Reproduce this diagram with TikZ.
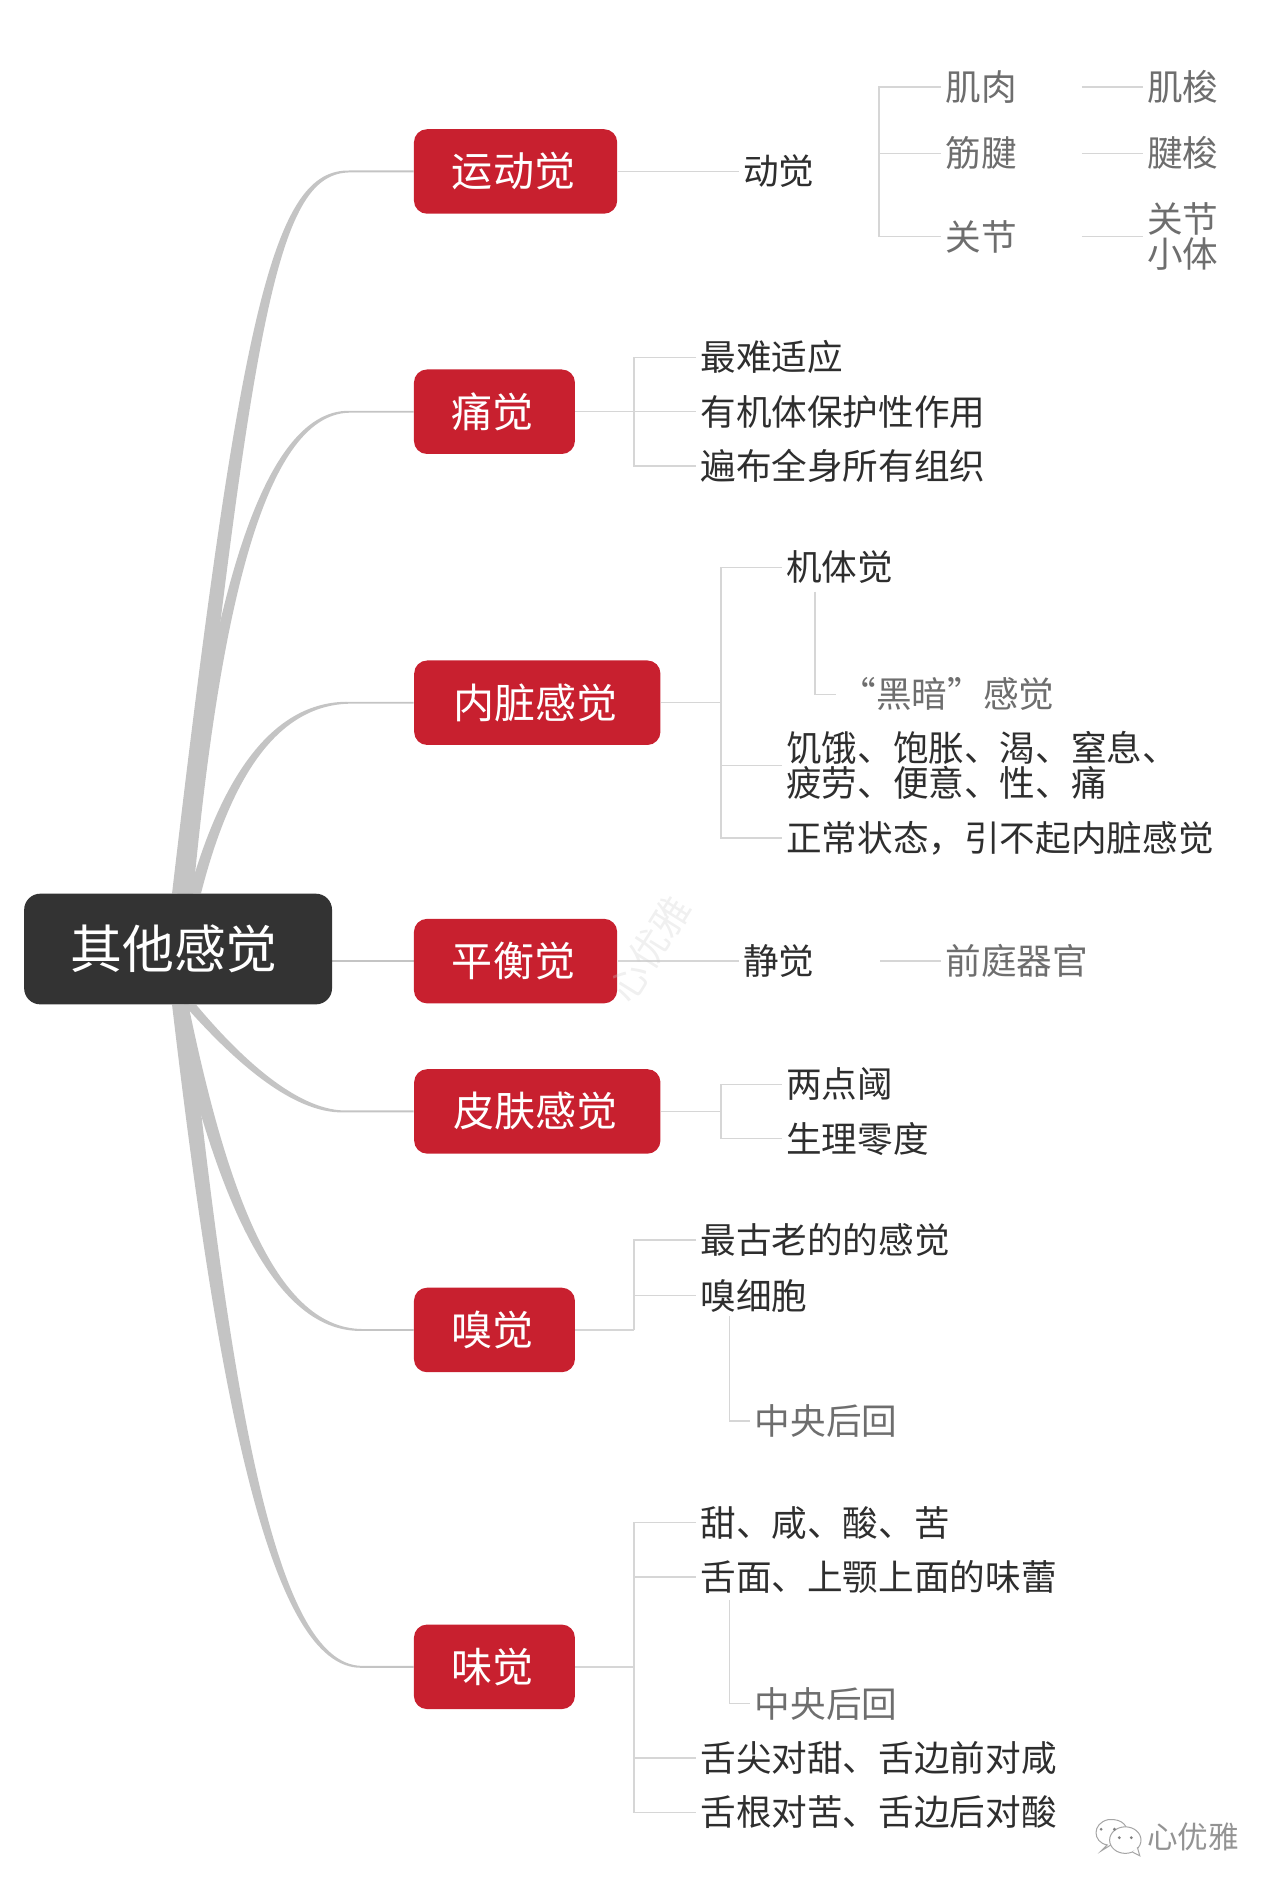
\documentclass[tikz,border=0pt]{standalone}
\usepackage{fontspec}
\usetikzlibrary{calc,backgrounds}
\setmainfont{Noto Sans CJK SC}
\definecolor{rootc}{HTML}{333333}
\definecolor{redc}{HTML}{C8202F}
\definecolor{limbc}{HTML}{C4C4C4}
\definecolor{thinc}{HTML}{D6D6D6}
\definecolor{inkc}{HTML}{2E2E2E}
\definecolor{greyc}{HTML}{6E6E6E}
\tikzset{
  rootbox/.style={fill=rootc,text=white,rounded corners=8pt,minimum width=153pt,minimum height=55pt,inner sep=0pt,font=\fontsize{25.8}{28}\selectfont,execute at end node=\kern4pt},
  redbox/.style={fill=redc,text=white,rounded corners=6.5pt,minimum height=42pt,inner sep=0pt,font=\fontsize{20.4}{22}\selectfont,execute at end node=\kern2pt},
  item/.style={anchor=west,text=inkc,inner sep=2pt,align=left,text height=15.5pt,text depth=2.1pt,font=\fontsize{17.7}{17.7}\selectfont},
  twolines/.style={text height=33.2pt},
  sub/.style={item,text=greyc},
  limb/.style={fill=limbc},
  twig/.style={draw=thinc,line width=.75pt},
  stem/.style={draw=limbc,line width=1pt},
  iconline/.style={draw=gray!70,line width=.5pt,fill=white}
}
% #1 target box, #2 start dx at root anchor, #3 root anchor, #4,#5 first control offset, #6 second control dx, #7 end dx, #8 start width, #9 sign
\newcommand{\limbto}[9]{%
  \fill[limb] ($(root.#3)+({#2-#8/2},0)$)
    .. controls ($(root.#3)+({#4-#8*0.4},#5)$) and ($(#1.west)+({#6-2},{-2*#9})$) .. ($(#1.west)+(#7,{-0.8*#9})$)
    -- ($(#1.west)+(0,{-0.8*#9})$) -- ($(#1.west)+(0,{0.8*#9})$) -- ($(#1.west)+(#7,{0.8*#9})$)
    .. controls ($(#1.west)+({#6+2},{2*#9})$) and ($(root.#3)+({#4+#8*0.4},#5)$) .. ($(root.#3)+({#2+#8/2},0)$) -- cycle;}
\begin{document}
\begin{tikzpicture}[x=0.6pt,y=-0.6pt]
\useasboundingbox (0,0) rectangle (1060,1567);
% root and main boxes
\node[rootbox] (root) at (147.5,786) {其他感觉};
\node[redbox,minimum width=101pt] (yd) at (427,142) {运动觉};
\node[redbox,minimum width=80pt] (tj) at (409.5,341) {痛觉};
\node[redbox,minimum width=122.4pt] (nz) at (445,582) {内脏感觉};
\node[redbox,minimum width=101pt] (ph) at (427,796) {平衡觉};
\node[redbox,minimum width=122.4pt] (pf) at (445,920.5) {皮肤感觉};
\node[redbox,minimum width=80pt] (xj) at (409.5,1101.5) {嗅觉};
\node[redbox,minimum width=80pt] (wj) at (409.5,1380.5) {味觉};
% main limbs
\begin{scope}[on background layer]
\limbto{yd}{2}{north}{58}{-490}{-113}{-53}{14}{1}
\limbto{tj}{6}{north}{28}{-220}{-128}{-53}{13}{1}
\limbto{nz}{14}{north}{38}{-90}{-118}{-53}{10}{1}
\limbto{pf}{10}{south}{47}{43}{-100}{-58}{10}{-1}
\limbto{xj}{2}{south}{34}{148}{-118}{-43}{13}{-1}
\limbto{wj}{2}{south}{38}{318}{-118}{-43}{14}{-1}
\draw[stem] (root.east |- ph.west) -- (ph.west);
\end{scope}
% 运动觉
\node[item] (dj) at (612,142) {动觉};
\node[sub] (jr) at (779.5,72) {肌肉};
\node[sub] (jj) at (779.5,127) {筋腱};
\node[sub] (gj) at (779.5,196) {关节};
\node[sub] (js) at (946.5,72) {肌梭};
\node[sub] (js2) at (946.5,127) {腱梭};
\node[sub,twolines] (gt) at (946.5,196) {关节\\小体};
\coordinate (t1) at (728,142);
\draw[twig] (yd.east) -- (dj.west);
\draw[twig] (jr.west) -- (t1 |- jr.west) -- (t1 |- gj.west) -- (gj.west);
\draw[twig] (jj.west) -- (t1 |- jj.west);
\coordinate (t1b) at (896,142);
\draw[twig] (t1b |- jr.west) -- (js.west);
\draw[twig] (t1b |- jj.west) -- (js2.west);
\draw[twig] (t1b |- gj.west) -- (gt.west);
% 痛觉
\node[item] (t-a) at (576.5,296) {最难适应};
\node[item] (t-b) at (576.5,341) {有机体保护性作用};
\node[item] (t-c) at (576.5,386) {遍布全身所有组织};
\coordinate (t2) at (525,341);
\draw[twig] (tj.east) -- (t-b.west);
\draw[twig] (t-a.west) -- (t2 |- t-a.west) -- (t2 |- t-c.west) -- (t-c.west);
% 内脏感觉
\node[item] (n-a) at (647.5,470) {机体觉};
\node[sub] (n-h) at (692.5,575) {“黑暗”感觉};
\node[item,twolines] (n-b) at (647.5,634) {饥饿、饱胀、渴、窒息、\\疲劳、便意、性、痛};
\node[item] (n-c) at (647.5,694) {正常状态，引不起内脏感觉};
\coordinate (t3) at (597,582);
\coordinate (t3b) at (675,490);
\draw[twig] (nz.east) -- (t3);
\draw[twig] (n-a.west) -- (t3 |- n-a.west) -- (t3 |- n-c.west) -- (n-c.west);
\draw[twig] (t3 |- n-b.west) -- (n-b.west);
\draw[twig] (t3b) -- (t3b |- n-h.west) -- (n-h.west);
% 平衡觉
\node[item] (p-a) at (612,796) {静觉};
\node[sub] (p-b) at (779.5,796) {前庭器官};
\coordinate (t4) at (729,796);
\draw[twig] (ph.east) -- (p-a.west);
\draw[twig] (t4) -- (p-b.west);
% 皮肤感觉
\node[item] (f-a) at (647.5,898) {两点阈};
\node[item] (f-b) at (647.5,943) {生理零度};
\coordinate (t5) at (597,920.5);
\draw[twig] (pf.east) -- (t5);
\draw[twig] (f-a.west) -- (t5 |- f-a.west) -- (t5 |- f-b.west) -- (f-b.west);
% 嗅觉
\node[item] (x-a) at (576.5,1027) {最古老的的感觉};
\node[item] (x-b) at (576.5,1073) {嗅细胞};
\node[sub] (x-c) at (621.5,1177) {中央后回};
\coordinate (t6) at (525,1101.5);
\coordinate (t6b) at (604,1090);
\draw[twig] (xj.east) -- (t6);
\draw[twig] (x-a.west) -- (t6 |- x-a.west) -- (t6);
\draw[twig] (t6 |- x-b.west) -- (x-b.west);
\draw[twig] (t6b) -- (t6b |- x-c.west) -- (x-c.west);
% 味觉
\node[item] (w-a) at (576.5,1261) {甜、咸、酸、苦};
\node[item] (w-b) at (576.5,1306) {舌面、上颚上面的味蕾};
\node[sub] (w-c) at (621.5,1411) {中央后回};
\node[item] (w-d) at (576.5,1456) {舌尖对甜、舌边前对咸};
\node[item] (w-e) at (576.5,1501) {舌根对苦、舌边后对酸};
\coordinate (t7) at (525,1380.5);
\coordinate (t7b) at (604,1325);
\draw[twig] (wj.east) -- (t7);
\draw[twig] (w-a.west) -- (t7 |- w-a.west) -- (t7 |- w-e.west) -- (w-e.west);
\draw[twig] (t7 |- w-b.west) -- (w-b.west);
\draw[twig] (t7 |- w-d.west) -- (w-d.west);
\draw[twig] (t7b) -- (t7b |- w-c.west) -- (w-c.west);
% watermarks
\node[text=gray!40,text opacity=.3,rotate=58,inner sep=0pt,font=\fontsize{19}{20}\selectfont] (wm1) at (538,786) {心优雅};
\draw[iconline] (912,1533) -- (917,1528) .. controls (905,1526) and (904,1510) .. (918,1507) .. controls (930,1506) and (935,1513) .. (933,1520) -- cycle;
\draw[iconline] (932,1524) ellipse (13 and 11);
\draw[iconline] (938,1534) -- (944,1537) -- (942,1530);
\fill[gray] (912,1515) circle (1.3) (923,1515) circle (1.3) (927,1522) circle (1.3) (937,1522) circle (1.3);
\node[text=gray!85,inner sep=0pt,font=\fontsize{15.2}{16}\selectfont] (wm2) at (988,1521) {心优雅};
\end{tikzpicture}
\end{document}
